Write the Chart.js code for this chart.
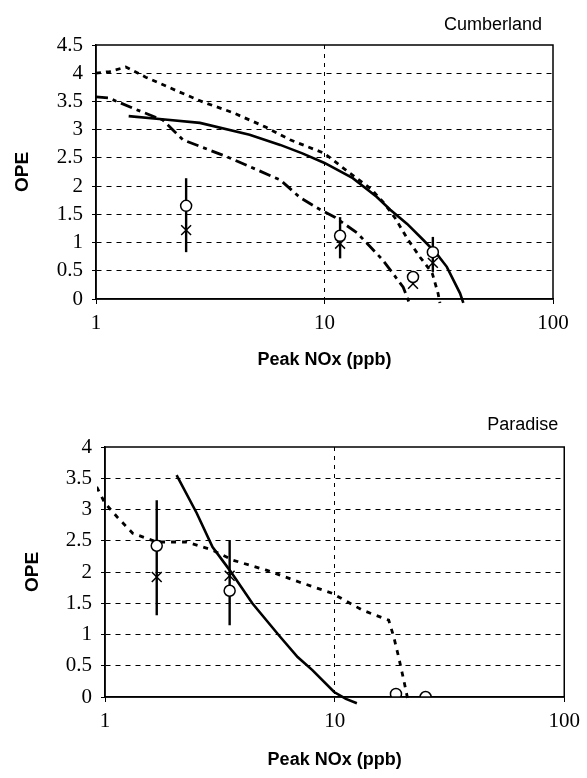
<!DOCTYPE html>
<html>
<head>
<meta charset="utf-8">
<script src="https://cdn.jsdelivr.net/npm/chart.js@4.4.1/dist/chart.umd.min.js"></script>
<style>
  html, body { margin: 0; padding: 0; background: #fff; }
  canvas { position: absolute; left: 0; }
  #c1 { top: 0; }
  #c2 { top: 390px; }
</style>
</head>
<body>
<canvas id="c1" width="587" height="390"></canvas>
<canvas id="c2" width="587" height="388"></canvas>
<script>
// ---- Cumberland ----
const cumbSolidX = [1.39, 2.0, 2.85, 4.7, 6.4, 8.0, 10, 13.3, 16.9, 19.4, 23, 27, 31, 34.3, 39.2, 40.5];
const cumbSolidY = [3.24, 3.18, 3.12, 2.91, 2.73, 2.58, 2.41, 2.14, 1.81, 1.58, 1.33, 1.05, 0.8, 0.57, 0.1, -0.07];
const cumbDotX = [1, 1.15, 1.35, 1.65, 2.31, 2.94, 3.98, 5.5, 7.07, 10, 12.9, 16, 18.2, 20.4, 23.2, 26.2, 29.6, 31.4, 32];
const cumbDotY = [4.0, 4.03, 4.11, 3.93, 3.67, 3.49, 3.3, 3.05, 2.82, 2.58, 2.23, 1.95, 1.7, 1.43, 1.05, 0.74, 0.46, 0.1, -0.07];
const cumbDashX = [1, 1.14, 1.45, 1.96, 2.28, 2.4, 3.74, 6.4, 7.8, 9.6, 11.1, 13.9, 18, 22.1, 23.5];
const cumbDashY = [3.58, 3.56, 3.38, 3.17, 2.91, 2.82, 2.52, 2.11, 1.8, 1.58, 1.45, 1.17, 0.69, 0.21, -0.07];
const cumbObsX = [2.48, 11.7, 24.4, 29.8];
const cumbCircleY = [1.65, 1.12, 0.39, 0.83];
const cumbCrossY = [1.22, 0.98, 0.27, 0.64];
const cumbBarLo = [0.83, 0.72, null, 0.48];
const cumbBarHi = [2.14, 1.45, null, 1.1];

// ---- Paradise ----
const parSolidX = [2.05, 2.51, 2.94, 3.49, 4.38, 5.74, 6.9, 8.0, 9.95, 11.2, 12.5];
const parSolidY = [3.55, 2.94, 2.4, 2.03, 1.5, 0.98, 0.64, 0.43, 0.08, -0.03, -0.1];
const parDotX = [0.92, 1, 1.13, 1.32, 1.68, 2.27, 2.94, 3.6, 5.04, 7.0, 9.75, 13.2, 17.2, 18.1, 19, 20, 21];
const parDotY = [3.36, 3.1, 2.88, 2.62, 2.48, 2.48, 2.35, 2.19, 2.03, 1.84, 1.66, 1.39, 1.23, 0.96, 0.64, 0.27, -0.1];
const parCircleX = [1.68, 3.49, 18.5, 24.9];
const parCircleY = [2.42, 1.7, 0.05, 0.0];
const parCrossX = [1.68, 3.49];
const parCrossY = [1.92, 1.94];
const parBarLo = [1.31, 1.15];
const parBarHi = [3.15, 2.51];

const xTicks = [1, 10, 100];

function pts(xs, ys) {
  return xs.map((x, i) => ({ x: x, y: ys[i] }));
}

function lineSet(xs, ys, dash, w) {
  return {
    data: pts(xs, ys), showLine: true, pointRadius: 0, borderColor: '#000',
    borderWidth: w || 2.6, borderDash: dash, tension: 0, clip: 8, order: 3
  };
}

function barSets(xs, lo, hi) {
  const out = [];
  for (let i = 0; i < xs.length; i++) {
    if (lo[i] == null) continue;
    out.push({
      data: [{ x: xs[i], y: lo[i] }, { x: xs[i], y: hi[i] }],
      showLine: true, pointRadius: 0, borderColor: '#000', borderWidth: 2.4, order: 2
    });
  }
  return out;
}

function circleSet(xs, ys) {
  return {
    data: pts(xs, ys), pointStyle: 'circle', pointRadius: 5.5,
    pointBackgroundColor: '#fff', pointBorderColor: '#000', pointBorderWidth: 1.5, order: 0
  };
}

function crossSet(xs, ys) {
  return {
    data: pts(xs, ys), pointStyle: 'crossRot', pointRadius: 7,
    pointBorderColor: '#000', pointBorderWidth: 1.5, order: 1
  };
}

// frame round the plot + the place name in the top right corner
const framePlugin = {
  id: 'frame',
  afterDraw(chart, args, opts) {
    const a = chart.chartArea, ctx = chart.ctx;
    ctx.save();
    ctx.setLineDash([]);
    ctx.strokeStyle = '#000';
    ctx.lineWidth = 1.5;
    ctx.strokeRect(a.left, a.top, a.right - a.left, a.bottom - a.top);
    ctx.fillStyle = '#000';
    ctx.font = '18px "Liberation Sans", Arial, sans-serif';
    ctx.textAlign = 'right';
    ctx.textBaseline = 'middle';
    ctx.fillText(opts.text, a.right + opts.dx, a.top + opts.dy);
    ctx.restore();
  }
};

function makeOptions(cfg) {
  return {
    responsive: false,
    animation: false,
    layout: { padding: { top: cfg.top, right: cfg.right, left: 0, bottom: 0 } },
    plugins: {
      legend: { display: false },
      tooltip: { enabled: false },
      frame: { text: cfg.name, dx: cfg.nameDx, dy: cfg.nameDy }
    },
    scales: {
      x: {
        type: 'logarithmic', min: 1, max: 100,
        afterBuildTicks: s => { s.ticks = xTicks.map(v => ({ value: v })); },
        afterFit: s => { s.height = cfg.xHeight; },
        ticks: {
          autoSkip: false, maxRotation: 0, padding: 7, color: '#000',
          font: { family: '"Liberation Serif", "Times New Roman", serif', size: 21 },
          callback: v => String(v)
        },
        grid: {
          color: c => (c.tick && c.tick.value === 10) ? '#000' : 'rgba(0,0,0,0)',
          lineWidth: 1, tickLength: 5, tickColor: '#000', tickBorderDash: []
        },
        border: { display: true, color: '#000', width: 1.5, dash: [4, 5] },
        title: {
          display: true, text: 'Peak NOx (ppb)', color: '#000',
          font: { family: '"Liberation Sans", Arial, sans-serif', size: 18, weight: 'bold' },
          padding: { top: 0, bottom: cfg.xTitlePad }
        }
      },
      y: {
        min: 0, max: cfg.ymax,
        afterFit: s => { s.width = cfg.yWidth; },
        ticks: {
          stepSize: 0.5, autoSkip: false, padding: 9, color: '#000',
          font: { family: '"Liberation Serif", "Times New Roman", serif', size: 21 },
          callback: v => String(v)
        },
        grid: {
          color: c => (c.tick && c.tick.value > 0 && c.tick.value < cfg.ymax) ? '#000' : 'rgba(0,0,0,0)',
          lineWidth: 1, tickLength: 4, tickColor: '#000', tickBorderDash: []
        },
        border: { display: true, color: '#000', width: 1.5, dash: [5, 5] },
        title: {
          display: true, text: 'OPE', color: '#000',
          font: { family: '"Liberation Sans", Arial, sans-serif', size: 19, weight: 'bold' },
          padding: { top: cfg.yTitlePad, bottom: 0 }
        }
      }
    }
  };
}

new Chart(document.getElementById('c1'), {
  type: 'scatter',
  data: {
    datasets: [
      lineSet(cumbSolidX, cumbSolidY, []),
      lineSet(cumbDotX, cumbDotY, [5, 5], 2.8),
      lineSet(cumbDashX, cumbDashY, [12, 5, 4, 5], 2.8),
      ...barSets(cumbObsX, cumbBarLo, cumbBarHi),
      crossSet(cumbObsX, cumbCrossY),
      circleSet(cumbObsX, cumbCircleY)
    ]
  },
  options: makeOptions({
    name: 'Cumberland', nameDx: -11, nameDy: -20,
    top: 45, right: 34, yWidth: 96, xHeight: 91, ymax: 4.5,
    xTitlePad: 19, yTitlePad: 11
  }),
  plugins: [framePlugin]
});

new Chart(document.getElementById('c2'), {
  type: 'scatter',
  data: {
    datasets: [
      lineSet(parSolidX, parSolidY, []),
      lineSet(parDotX, parDotY, [5, 6], 2.8),
      ...barSets(parCrossX, parBarLo, parBarHi),
      crossSet(parCrossX, parCrossY),
      circleSet(parCircleX, parCircleY)
    ]
  },
  options: makeOptions({
    name: 'Paradise', nameDx: -6, nameDy: -22,
    top: 57, right: 21, yWidth: 105, xHeight: 81, ymax: 4,
    xTitlePad: 7, yTitlePad: 21
  }),
  plugins: [framePlugin]
});
</script>
</body>
</html>
